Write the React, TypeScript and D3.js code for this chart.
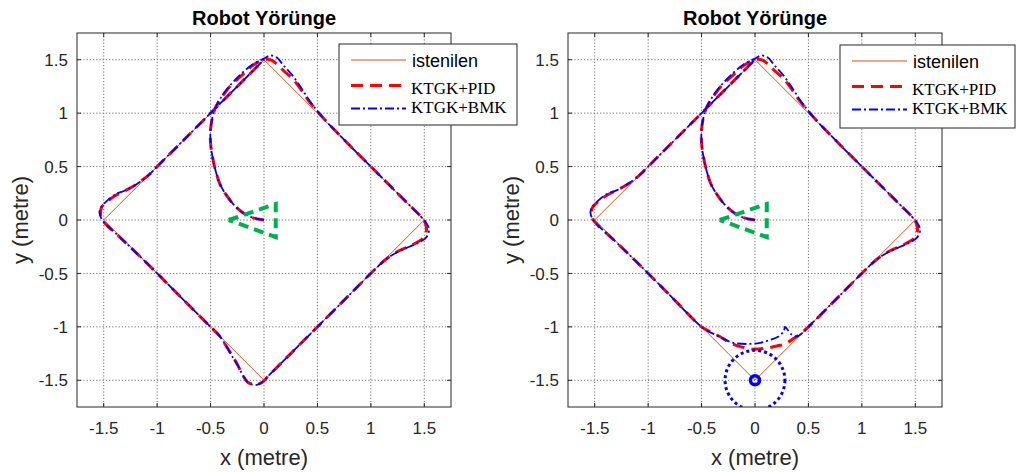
import React from 'react';
import * as d3 from 'd3';

type Pt = [number, number];

const X_TICKS = [-1.5, -1, -0.5, 0, 0.5, 1, 1.5];
const Y_TICKS = [-1.5, -1, -0.5, 0, 0.5, 1, 1.5];
const TICK_LABELS = ['-1.5', '-1', '-0.5', '0', '0.5', '1', '1.5'];
const LIMITS: [number, number] = [-1.75, 1.75];
const TITLE = 'Robot Yörünge';
const LEGEND_LABELS = ['istenilen', 'KTGK+PID', 'KTGK+BMK'];

// desired square path (istenilen)
const DESIRED: Pt[] = [[0, 1.5], [1.5, 0], [0, -1.5], [-1.5, 0], [0, 1.5]];
// robot start pose
const ROBOT: Pt[] = [[-0.33, 0], [0.11, 0.15], [0.11, -0.16], [-0.33, 0]];
// obstacle (right plot)
const OBSTACLE_CENTER: Pt = [0, -1.5];
const OBSTACLE_RADIUS = 0.28;

// KTGK+PID, start -> lower-right edge
const PID_HEAD: Pt[] = [
  [0, 0], [-0.06, 0.01], [-0.13, 0.03], [-0.2, 0.07], [-0.28, 0.14], [-0.35, 0.23], [-0.41, 0.33],
  [-0.45, 0.45], [-0.48, 0.58], [-0.5, 0.72], [-0.5, 0.85], [-0.48, 0.97], [-0.45, 1.06],
  [-0.38, 1.17], [-0.3, 1.27], [-0.2, 1.36], [-0.1, 1.45], [0, 1.5], [0.06, 1.5], [0.12, 1.46],
  [0.18, 1.4], [0.26, 1.33], [0.34, 1.23], [0.43, 1.1], [0.55, 0.96], [0.8, 0.7], [1.1, 0.4],
  [1.35, 0.15], [1.47, 0.03], [1.51, -0.03], [1.52, -0.1], [1.49, -0.17], [1.43, -0.21],
  [1.35, -0.25], [1.26, -0.29], [1.15, -0.36], [1.05, -0.45], [0.8, -0.7], [0.5, -1.0],
];
// KTGK+PID around the bottom corner (no obstacle)
const PID_CORNER: Pt[] = [
  [0.25, -1.25], [0.05, -1.45], [-0.02, -1.52], [-0.08, -1.54], [-0.15, -1.52], [-0.2, -1.45],
  [-0.24, -1.37], [-0.29, -1.28], [-0.36, -1.17], [-0.42, -1.08], [-0.5, -1.0],
];
// KTGK+PID avoiding the obstacle
const PID_AVOID: Pt[] = [
  [0.42, -1.07], [0.36, -1.11], [0.28, -1.16], [0.2, -1.18], [0.1, -1.2], [-0.01, -1.21],
  [-0.12, -1.19], [-0.23, -1.15], [-0.33, -1.09], [-0.43, -1.04], [-0.5, -1.0],
];
// KTGK+PID, lower-left edge -> end
const PID_TAIL: Pt[] = [
  [-0.8, -0.7], [-1.1, -0.4], [-1.35, -0.16], [-1.47, -0.05], [-1.52, 0.01], [-1.53, 0.07],
  [-1.52, 0.12], [-1.47, 0.17], [-1.39, 0.23], [-1.29, 0.28], [-1.2, 0.33], [-1.08, 0.42],
  [-1.0, 0.5], [-0.7, 0.8], [-0.4, 1.1], [-0.15, 1.35], [0, 1.5],
];

const BMK_HEAD: Pt[] = [
  [0, 0], [-0.06, 0.01], [-0.13, 0.03], [-0.2, 0.07], [-0.28, 0.14], [-0.35, 0.23], [-0.41, 0.33],
  [-0.45, 0.45], [-0.48, 0.58], [-0.5, 0.72], [-0.5, 0.85], [-0.48, 0.97], [-0.45, 1.06],
  [-0.38, 1.18], [-0.3, 1.28], [-0.2, 1.38], [-0.1, 1.46], [0, 1.51], [0.06, 1.54], [0.12, 1.52],
  [0.18, 1.45], [0.26, 1.36], [0.34, 1.25], [0.43, 1.11], [0.55, 0.96], [0.8, 0.7], [1.1, 0.4],
  [1.35, 0.15], [1.47, 0.03], [1.52, -0.03], [1.545, -0.09], [1.52, -0.16], [1.45, -0.21],
  [1.36, -0.25], [1.27, -0.29], [1.15, -0.36], [1.05, -0.45], [0.8, -0.7], [0.5, -1.0],
];
const BMK_CORNER: Pt[] = [
  [0.25, -1.25], [0.05, -1.45], [-0.02, -1.52], [-0.08, -1.545], [-0.15, -1.52], [-0.2, -1.45],
  [-0.24, -1.37], [-0.29, -1.29], [-0.36, -1.17], [-0.42, -1.08], [-0.5, -1.0],
];
const BMK_AVOID: Pt[] = [
  [0.44, -1.06], [0.39, -1.09], [0.34, -1.07], [0.3, -1.02], [0.28, -1.0], [0.27, -1.04],
  [0.22, -1.09], [0.15, -1.12], [0.05, -1.15], [-0.05, -1.16], [-0.2, -1.15], [-0.3, -1.11],
  [-0.38, -1.07], [-0.5, -1.0],
];
const BMK_TAIL: Pt[] = [
  [-0.8, -0.7], [-1.1, -0.4], [-1.35, -0.16], [-1.47, -0.05], [-1.52, 0.01], [-1.54, 0.07],
  [-1.53, 0.11], [-1.48, 0.17], [-1.39, 0.24], [-1.29, 0.28], [-1.2, 0.33], [-1.08, 0.42],
  [-1.0, 0.5], [-0.7, 0.8], [-0.4, 1.1], [-0.15, 1.35], [0, 1.5],
];

const SANS = '"Liberation Sans", Arial, Helvetica, sans-serif';
const SERIF = '"Liberation Serif", "Times New Roman", serif';
const AX = '#262626';
const ORANGE = '#D95319';
const RED = '#FF0000';
const BLUE = '#0000FF';
const GREEN = '#00AF50';

const RED_DASH = '12,7';
const BLUE_DASH = '9,3,2,3';

type LegendBox = { x: number; y: number; w: number; h: number };

function Panel({ id, x0, legend, pid, bmk, obstacle }: {
  id: string; x0: number; legend: LegendBox; pid: Pt[]; bmk: Pt[]; obstacle: boolean;
}) {
  const size = 374;
  const y0 = 33;
  const x = d3.scaleLinear().domain(LIMITS).range([x0, x0 + size]);
  const y = d3.scaleLinear().domain(LIMITS).range([y0 + size, y0]);
  const straight = d3.line<Pt>().x(d => x(d[0])).y(d => y(d[1]));
  const smooth = d3.line<Pt>().x(d => x(d[0])).y(d => y(d[1])).curve(d3.curveCatmullRom.alpha(0.5));
  const cx = (x0 + x0 + size) / 2;
  const tl = 4;

  return (
    <g>
      <defs>
        <clipPath id={id}>
          <rect x={x0} y={y0} width={size} height={size} />
        </clipPath>
      </defs>
      <rect x={x0} y={y0} width={size} height={size} fill="#fff" />
      {/* grid */}
      {X_TICKS.map(t => (
        <line key={'gx' + t} x1={x(t)} x2={x(t)} y1={y0} y2={y0 + size} stroke="#707070" strokeWidth={1} strokeDasharray="1.2,2" />
      ))}
      {Y_TICKS.map(t => (
        <line key={'gy' + t} x1={x0} x2={x0 + size} y1={y(t)} y2={y(t)} stroke="#707070" strokeWidth={1} strokeDasharray="1.2,2" />
      ))}

      <g clipPath={`url(#${id})`}>
        <path d={straight(DESIRED) ?? ''} fill="none" stroke={ORANGE} strokeWidth={1} />
        <path d={smooth(pid) ?? ''} fill="none" stroke={RED} strokeWidth={3} strokeDasharray={RED_DASH} />
        <path d={smooth(bmk) ?? ''} fill="none" stroke={BLUE} strokeWidth={1.8} strokeDasharray={BLUE_DASH} />
        <path d={straight(ROBOT) ?? ''} fill="none" stroke={GREEN} strokeWidth={4} strokeDasharray="10,6" />
        {obstacle && (
          <>
            <circle cx={x(OBSTACLE_CENTER[0])} cy={y(OBSTACLE_CENTER[1])}
              r={x(OBSTACLE_RADIUS) - x(0)} fill="none" stroke={BLUE} strokeWidth={3} strokeDasharray="3,3" />
            <circle cx={x(OBSTACLE_CENTER[0])} cy={y(OBSTACLE_CENTER[1])} r={4.5}
              fill="none" stroke={BLUE} strokeWidth={3.5} />
          </>
        )}
      </g>

      {/* box + ticks */}
      <rect x={x0} y={y0} width={size} height={size} fill="none" stroke={AX} strokeWidth={1} />
      {X_TICKS.map(t => (
        <g key={'tx' + t}>
          <line x1={x(t)} x2={x(t)} y1={y0 + size} y2={y0 + size - tl} stroke={AX} />
          <line x1={x(t)} x2={x(t)} y1={y0} y2={y0 + tl} stroke={AX} />
        </g>
      ))}
      {Y_TICKS.map(t => (
        <g key={'ty' + t}>
          <line x1={x0} x2={x0 + tl} y1={y(t)} y2={y(t)} stroke={AX} />
          <line x1={x0 + size} x2={x0 + size - tl} y1={y(t)} y2={y(t)} stroke={AX} />
        </g>
      ))}

      {/* tick labels */}
      {X_TICKS.map((t, i) => (
        <text key={'lx' + t} x={x(t)} y={434} textAnchor="middle" fontFamily={SANS} fontSize={17} fill={AX}>
          {TICK_LABELS[i]}
        </text>
      ))}
      {Y_TICKS.map((t, i) => (
        <text key={'ly' + t} x={x0 - 9} y={y(t)} dy="0.36em" textAnchor="end" fontFamily={SANS} fontSize={17} fill={AX}>
          {TICK_LABELS[i]}
        </text>
      ))}

      <text x={cx} y={465} textAnchor="middle" fontFamily={SANS} fontSize={22} fill={AX}>x (metre)</text>
      <text transform={`translate(${x0 - 49},${y0 + size / 2}) rotate(-90)`} textAnchor="middle"
        fontFamily={SANS} fontSize={22} fill={AX}>y (metre)</text>
      <text x={cx} y={25} textAnchor="middle" fontFamily={SANS} fontSize={20} fontWeight="bold" fill="#000">{TITLE}</text>

      {/* legend */}
      <g transform={`translate(${legend.x},${legend.y})`}>
        <rect x={0} y={0} width={legend.w} height={legend.h} fill="#fff" stroke={AX} strokeWidth={1} />
        <line x1={12} x2={67} y1={16} y2={16} stroke={ORANGE} strokeWidth={1.2} />
        <text x={73} y={23} fontFamily={SANS} fontSize={18} fill="#000">{LEGEND_LABELS[0]}</text>
        <line x1={12} x2={67} y1={41.5} y2={41.5} stroke={RED} strokeWidth={3} strokeDasharray={RED_DASH} />
        <text x={72} y={49.5} fontFamily={SERIF} fontSize={17} fill="#000">{LEGEND_LABELS[1]}</text>
        <line x1={12} x2={67} y1={64.5} y2={64.5} stroke={BLUE} strokeWidth={1.8} strokeDasharray={BLUE_DASH} />
        <text x={72} y={69} fontFamily={SERIF} fontSize={17} fill="#000">{LEGEND_LABELS[2]}</text>
      </g>
    </g>
  );
}

export default function App() {
  const pidLeft = [...PID_HEAD, ...PID_CORNER, ...PID_TAIL];
  const bmkLeft = [...BMK_HEAD, ...BMK_CORNER, ...BMK_TAIL];
  const pidRight = [...PID_HEAD, ...PID_AVOID, ...PID_TAIL];
  const bmkRight = [...BMK_HEAD, ...BMK_AVOID, ...BMK_TAIL];
  return (
    <div>
      <style>{'body{margin:0;background:#fff}'}</style>
      <svg width={1016} height={472} style={{ display: 'block', background: '#fff' }}>
        <Panel id="clipL" x0={77} legend={{ x: 339, y: 44, w: 178, h: 81 }} pid={pidLeft} bmk={bmkLeft} obstacle={false} />
        <Panel id="clipR" x0={568} legend={{ x: 840, y: 45, w: 175, h: 83 }} pid={pidRight} bmk={bmkRight} obstacle={true} />
      </svg>
    </div>
  );
}
